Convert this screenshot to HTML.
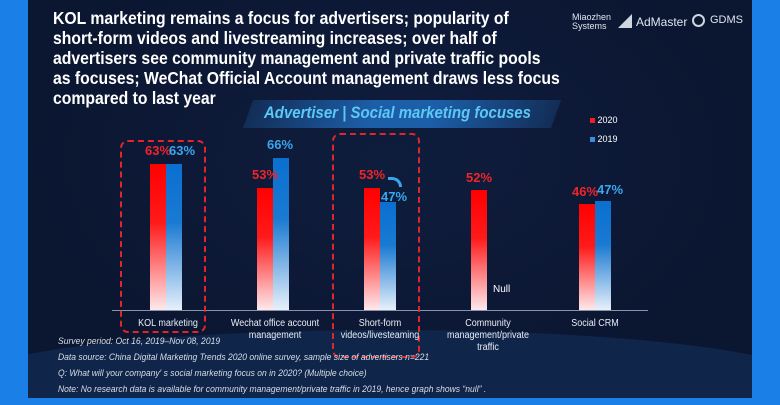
<!DOCTYPE html>
<html><head><meta charset="utf-8"><style>
*{margin:0;padding:0;box-sizing:border-box}
html,body{width:780px;height:405px;overflow:hidden}
body{background:#1a7fe6;position:relative;font-family:"Liberation Sans",sans-serif}
#p{position:absolute;left:28px;top:0;width:724px;height:398px;background:radial-gradient(ellipse at 50% 40%,#0f1d3d,#0b1631 70%);overflow:hidden}
.a{position:absolute;white-space:nowrap}
.bar{position:absolute;width:16px}
.r{background:linear-gradient(#ff0000 0%,#ff1a1a 40%,#fde9ec 100%)}
.b{background:linear-gradient(#0a6fd0 0%,#1a7ad2 40%,#e6f0fa 100%)}
.lr{color:#f0242a;font-weight:bold;font-size:13px}
.lb{color:#3aa6ee;font-weight:bold;font-size:13px}
.cat{color:#e8ecf5;font-size:10px;text-align:center;line-height:12px;transform:scaleX(.9)}
.n{color:#d8dde8;font-size:9px;font-style:italic;transform:scaleX(.95);transform-origin:0 0}
.box{position:absolute;border:2px dashed #e0262a;border-radius:8px}
</style></head><body>
<div id="p">
<div style="position:absolute;left:-60px;top:330px;width:840px;height:100px;border-radius:50%;background:#12305a;opacity:.6"></div>
</div>
<div class="a" style="left:53px;top:8px;color:#fff;font-weight:bold;font-size:17.5px;line-height:20px;transform:scaleX(.9);transform-origin:0 0">KOL marketing remains a focus for advertisers; popularity of<br>short-form videos and livestreaming increases; over half of<br>advertisers see community management and private traffic pools<br>as focuses; WeChat Official Account management draws less focus<br>compared to last year</div>
<div class="a" style="left:572px;top:13px;color:#dfe6f0;font-size:9px;line-height:9px">Miaozhen<br>Systems</div>
<div class="a" style="left:618px;top:14px;width:14px;height:14px;background:#cfd6e0;clip-path:polygon(0 100%,100% 0,100% 100%)"></div>
<div class="a" style="left:636px;top:15px;color:#dfe6f0;font-size:12px">AdMaster</div>
<div class="a" style="left:692px;top:14px;width:13px;height:13px;border:2px solid #cfd6e0;border-radius:50%"></div>
<div class="a" style="left:710px;top:14px;color:#dfe6f0;font-size:11px">GDMS</div>
<div class="a" style="left:248px;top:100px;width:308px;height:28px;background:linear-gradient(90deg,rgba(30,90,160,.3),#1d5ea8 40%,#1d5ea8 60%,rgba(30,90,160,.3));transform:skewX(-20deg)"></div>
<div class="a" style="left:264px;top:103px;color:#5cc8f5;font-weight:bold;font-style:italic;font-size:17px;transform:scaleX(.88);transform-origin:0 0">Advertiser | Social marketing focuses</div>
<div class="a" style="left:590px;top:115px;color:#fff;font-size:9px"><span style="display:inline-block;width:5px;height:5px;background:#f02020"></span> 2020</div>
<div class="a" style="left:590px;top:134px;color:#fff;font-size:9px"><span style="display:inline-block;width:5px;height:5px;background:#3a8ee0"></span> 2019</div>
<div class="a" style="left:112px;top:310px;width:536px;height:1px;background:#8a94a8"></div>
<div class="bar r" style="left:150px;top:164px;height:146px"></div>
<div class="bar b" style="left:166px;top:164px;height:146px"></div>
<div class="bar r" style="left:257px;top:188px;height:122px"></div>
<div class="bar b" style="left:273px;top:158px;height:152px"></div>
<div class="bar r" style="left:364px;top:188px;height:122px"></div>
<div class="bar b" style="left:380px;top:202px;height:108px"></div>
<div class="bar r" style="left:471px;top:190px;height:120px"></div>
<div class="bar r" style="left:579px;top:204px;height:106px"></div>
<div class="bar b" style="left:595px;top:201px;height:109px"></div>
<div class="a lr" style="left:145px;top:143px">63%</div>
<div class="a lb" style="left:169px;top:143px">63%</div>
<div class="a lr" style="left:252px;top:167px">53%</div>
<div class="a lb" style="left:267px;top:137px">66%</div>
<div class="a lr" style="left:359px;top:167px">53%</div>
<div class="a lb" style="left:381px;top:189px">47%</div>
<div class="a" style="left:388px;top:177px;width:14px;height:10px;border-top:3px solid #3aa6ee;border-right:3px solid #3aa6ee;border-radius:0 10px 0 0"></div>
<div class="a lr" style="left:466px;top:170px">52%</div>
<div class="a lr" style="left:572px;top:184px">46%</div>
<div class="a lb" style="left:597px;top:182px">47%</div>
<div class="a" style="left:493px;top:284px;color:#fff;font-size:10px">Null</div>
<div class="box" style="left:120px;top:140px;width:86px;height:193px"></div>
<div class="box" style="left:332px;top:133px;width:88px;height:225px"></div>
<div class="a cat" style="left:113px;top:318px;width:110px">KOL marketing</div>
<div class="a cat" style="left:220px;top:318px;width:110px">Wechat office account<br>management</div>
<div class="a cat" style="left:325px;top:318px;width:110px">Short-form<br>videos/livesteaming</div>
<div class="a cat" style="left:433px;top:318px;width:110px">Community<br>management/private<br>traffic</div>
<div class="a cat" style="left:540px;top:318px;width:110px">Social CRM</div>
<div class="a n" style="left:58px;top:336px">Survey period: Oct 16, 2019–Nov 08, 2019</div>
<div class="a n" style="left:58px;top:352px">Data source: China Digital Marketing Trends 2020 online survey,  sample size of advertisers  n=221</div>
<div class="a n" style="left:58px;top:368px">Q: What will your company′ s social marketing focus on in 2020? (Multiple choice)</div>
<div class="a n" style="left:58px;top:384px">Note: No research data is available for community management/private traffic in 2019, hence graph shows  “null” .</div>
</body></html>
